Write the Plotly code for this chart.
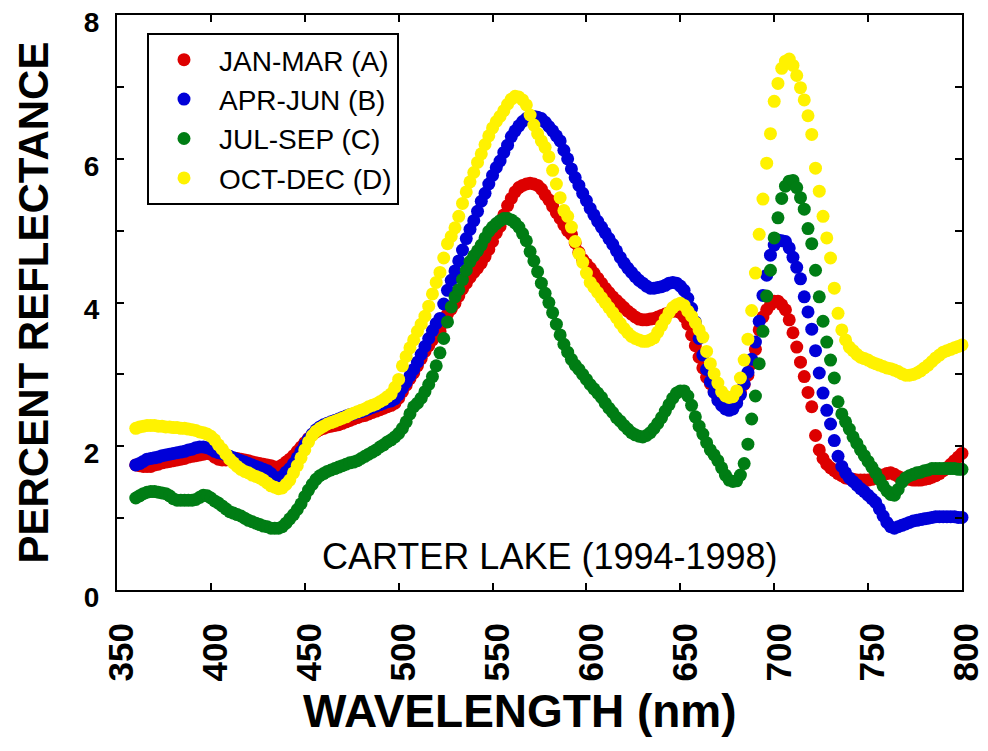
import numpy as np
import plotly.graph_objects as go

# Wavelength grid (nm)
WL_START, WL_STOP, WL_STEP = 360, 800, 2
wavelength = list(range(WL_START, WL_STOP + 1, WL_STEP))

series_names = ["JAN-MAR (A)", "APR-JUN (B)", "JUL-SEP (C)", "OCT-DEC (D)"]
series_colors = ["#dd0000", "#0000d8", "#007d14", "#fff200"]

jan_mar = [
    1.74, 1.73, 1.72, 1.72, 1.72, 1.74, 1.75, 1.77, 1.78, 1.79,
    1.80, 1.81, 1.82, 1.83, 1.85, 1.86, 1.87, 1.88, 1.89, 1.90,
    1.89, 1.85, 1.82, 1.81, 1.81, 1.82, 1.83, 1.83, 1.82, 1.81,
    1.80, 1.78, 1.77, 1.76, 1.75, 1.74, 1.73, 1.71, 1.71, 1.74,
    1.78, 1.82, 1.87, 1.93, 1.99, 2.05, 2.11, 2.16, 2.20, 2.23,
    2.25, 2.27, 2.28, 2.29, 2.30, 2.32, 2.34, 2.36, 2.38, 2.40,
    2.42, 2.43, 2.45, 2.47, 2.49, 2.51, 2.53, 2.55, 2.57, 2.60,
    2.67, 2.76, 2.85, 2.94, 3.02, 3.12, 3.22, 3.32, 3.40, 3.48,
    3.54, 3.60, 3.72, 3.84, 3.91, 3.99, 4.09, 4.19, 4.27, 4.35,
    4.42, 4.48, 4.55, 4.64, 4.74, 4.85, 4.97, 5.06, 5.22, 5.35,
    5.45, 5.54, 5.60, 5.63, 5.65, 5.66, 5.65, 5.63, 5.58, 5.50,
    5.43, 5.34, 5.25, 5.17, 5.08, 5.00, 4.95, 4.83, 4.70, 4.60,
    4.54, 4.48, 4.41, 4.34, 4.27, 4.20, 4.14, 4.08, 4.03, 3.98,
    3.93, 3.88, 3.84, 3.80, 3.77, 3.76, 3.76, 3.77, 3.78, 3.80,
    3.82, 3.84, 3.86, 3.88, 3.88, 3.86, 3.80, 3.70, 3.55, 3.40,
    3.24, 3.09, 2.96, 2.87, 2.77, 2.68, 2.62, 2.57, 2.56, 2.58,
    2.64, 2.74, 2.86, 2.99, 3.15, 3.35, 3.62, 3.80, 3.90, 3.97,
    4.02, 4.02, 3.97, 3.90, 3.76, 3.58, 3.38, 3.17, 2.97, 2.75,
    2.55, 2.15, 1.95, 1.83, 1.75, 1.70, 1.66, 1.62, 1.59, 1.56,
    1.55, 1.54, 1.53, 1.53, 1.53, 1.53, 1.54, 1.56, 1.58, 1.60,
    1.62, 1.63, 1.61, 1.58, 1.56, 1.55, 1.54, 1.53, 1.53, 1.53,
    1.54, 1.55, 1.57, 1.59, 1.62, 1.66, 1.70, 1.75, 1.80, 1.85,
    1.90,
]

apr_jun = [
    1.74, 1.76, 1.79, 1.82, 1.83, 1.84, 1.85, 1.87, 1.88, 1.89,
    1.90, 1.91, 1.92, 1.93, 1.95, 1.96, 1.98, 1.99, 1.99, 1.98,
    1.96, 1.93, 1.91, 1.90, 1.88, 1.86, 1.84, 1.82, 1.80, 1.78,
    1.76, 1.74, 1.72, 1.70, 1.68, 1.66, 1.62, 1.57, 1.55, 1.58,
    1.64, 1.69, 1.76, 1.84, 1.93, 2.02, 2.10, 2.17, 2.23, 2.27,
    2.30, 2.32, 2.34, 2.36, 2.38, 2.40, 2.42, 2.44, 2.45, 2.47,
    2.48, 2.50, 2.52, 2.54, 2.56, 2.58, 2.60, 2.62, 2.63, 2.66,
    2.72, 2.81, 2.89, 2.98, 3.07, 3.17, 3.28, 3.39, 3.50, 3.61,
    3.71, 3.78, 3.98, 4.17, 4.31, 4.44, 4.58, 4.73, 4.89, 5.02,
    5.14, 5.27, 5.41, 5.52, 5.65, 5.77, 5.88, 5.97, 6.09, 6.19,
    6.31, 6.39, 6.46, 6.52, 6.56, 6.58, 6.59, 6.58, 6.56, 6.51,
    6.45, 6.39, 6.32, 6.25, 6.12, 6.00, 5.86, 5.74, 5.63, 5.52,
    5.42, 5.31, 5.22, 5.13, 5.05, 4.97, 4.89, 4.81, 4.72, 4.63,
    4.55, 4.48, 4.42, 4.36, 4.31, 4.27, 4.23, 4.20, 4.20, 4.21,
    4.22, 4.24, 4.27, 4.28, 4.27, 4.23, 4.17, 4.06, 3.92, 3.73,
    3.50, 3.27, 3.07, 2.90, 2.75, 2.64, 2.57, 2.52, 2.50, 2.52,
    2.60, 2.72, 2.87, 3.03, 3.21, 3.45, 3.74, 4.10, 4.38, 4.66,
    4.80, 4.87, 4.86, 4.85, 4.76, 4.63, 4.49, 4.33, 4.08, 3.87,
    3.63, 3.33, 3.02, 2.74, 2.50, 2.31, 2.08, 1.86, 1.72, 1.63,
    1.56, 1.51, 1.46, 1.41, 1.37, 1.32, 1.27, 1.22, 1.13, 1.03,
    0.94, 0.88, 0.86, 0.88, 0.90, 0.92, 0.94, 0.96, 0.97, 0.98,
    0.99, 1.00, 1.01, 1.02, 1.02, 1.02, 1.02, 1.02, 1.02, 1.01,
    1.01,
]

jul_sep = [
    1.28, 1.31, 1.34, 1.36, 1.37, 1.37, 1.36, 1.35, 1.34, 1.31,
    1.27, 1.25, 1.25, 1.25, 1.25, 1.25, 1.26, 1.29, 1.32, 1.31,
    1.28, 1.24, 1.21, 1.17, 1.13, 1.09, 1.07, 1.05, 1.03, 1.00,
    0.97, 0.95, 0.93, 0.91, 0.89, 0.88, 0.86, 0.86, 0.86, 0.88,
    0.93, 0.99, 1.05, 1.12, 1.20, 1.30, 1.39, 1.47, 1.54, 1.59,
    1.62, 1.65, 1.67, 1.69, 1.71, 1.73, 1.75, 1.77, 1.78, 1.80,
    1.83, 1.86, 1.89, 1.92, 1.95, 1.99, 2.02, 2.06, 2.09, 2.13,
    2.18, 2.25, 2.34, 2.45, 2.55, 2.60, 2.67, 2.76, 2.86, 2.97,
    3.12, 3.30, 3.50, 3.73, 3.94, 4.08, 4.18, 4.32, 4.45, 4.57,
    4.65, 4.72, 4.80, 4.90, 4.99, 5.05, 5.10, 5.14, 5.17, 5.17,
    5.15, 5.11, 5.05, 4.96, 4.86, 4.71, 4.58, 4.43, 4.27, 4.13,
    4.00, 3.86, 3.70, 3.55, 3.42, 3.31, 3.21, 3.13, 3.07, 3.00,
    2.93, 2.86, 2.80, 2.74, 2.68, 2.60, 2.53, 2.47, 2.40, 2.35,
    2.29, 2.24, 2.19, 2.16, 2.14, 2.13, 2.15, 2.19, 2.25, 2.32,
    2.40, 2.49, 2.58, 2.67, 2.74, 2.77, 2.77, 2.70, 2.57, 2.41,
    2.28, 2.17, 2.05, 1.95, 1.88, 1.80, 1.70, 1.60, 1.53, 1.51,
    1.52, 1.60, 1.76, 2.03, 2.38, 2.70, 3.15, 3.60, 4.09, 4.45,
    4.90, 5.18, 5.45, 5.62, 5.69, 5.70, 5.60, 5.46, 5.30, 5.03,
    4.82, 4.45, 4.08, 3.74, 3.45, 3.20, 2.95, 2.62, 2.45, 2.34,
    2.24, 2.13, 2.04, 1.95, 1.87, 1.79, 1.71, 1.63, 1.54, 1.45,
    1.38, 1.33, 1.32, 1.40, 1.50, 1.56, 1.59, 1.61, 1.63, 1.64,
    1.66, 1.67, 1.69, 1.69, 1.69, 1.69, 1.69, 1.69, 1.69, 1.68,
    1.68,
]

oct_dec = [
    2.25, 2.27, 2.28, 2.29, 2.29, 2.29, 2.28, 2.28, 2.27, 2.27,
    2.26, 2.26, 2.25, 2.25, 2.24, 2.23, 2.22, 2.20, 2.19, 2.17,
    2.14, 2.09, 2.02, 1.96, 1.89, 1.82, 1.77, 1.72, 1.68, 1.65,
    1.63, 1.60, 1.58, 1.56, 1.53, 1.49, 1.45, 1.43, 1.41, 1.42,
    1.47, 1.53, 1.63, 1.73, 1.84, 1.95, 2.06, 2.15, 2.21, 2.25,
    2.28, 2.31, 2.33, 2.35, 2.37, 2.39, 2.41, 2.44, 2.46, 2.48,
    2.50, 2.52, 2.55, 2.57, 2.59, 2.62, 2.65, 2.69, 2.73, 2.82,
    2.93, 3.12, 3.25, 3.37, 3.48, 3.60, 3.70, 3.81, 3.95, 4.12,
    4.28, 4.42, 4.62, 4.82, 4.92, 5.04, 5.20, 5.38, 5.54, 5.68,
    5.81, 5.95, 6.07, 6.20, 6.32, 6.43, 6.52, 6.59, 6.67, 6.76,
    6.83, 6.87, 6.86, 6.82, 6.75, 6.61, 6.47, 6.35, 6.25, 6.16,
    6.03, 5.84, 5.65, 5.46, 5.28, 5.20, 5.05, 4.85, 4.68, 4.56,
    4.41, 4.28, 4.21, 4.14, 4.07, 4.00, 3.93, 3.86, 3.79, 3.71,
    3.64, 3.58, 3.53, 3.50, 3.48, 3.46, 3.46, 3.48, 3.51, 3.59,
    3.68, 3.77, 3.86, 3.93, 3.97, 3.99, 3.96, 3.88, 3.81, 3.72,
    3.62, 3.52, 3.32, 3.15, 3.01, 2.88, 2.76, 2.70, 2.68, 2.69,
    2.77, 2.95, 3.20, 3.49, 3.89, 4.41, 4.95, 5.44, 5.94, 6.35,
    6.80, 7.05, 7.26, 7.36, 7.39, 7.30, 7.16, 6.99, 6.82, 6.60,
    6.34, 5.87, 5.55, 5.20, 4.90, 4.62, 4.20, 3.85, 3.62, 3.48,
    3.38, 3.33, 3.28, 3.24, 3.22, 3.20, 3.17, 3.15, 3.13, 3.11,
    3.09, 3.08, 3.06, 3.04, 3.01, 2.99, 2.99, 3.00, 3.02, 3.05,
    3.09, 3.13, 3.18, 3.23, 3.27, 3.31, 3.33, 3.35, 3.37, 3.39,
    3.41,
]

x_tick_values = [350, 400, 450, 500, 550, 600, 650, 700, 750, 800]
y_tick_values = [0, 1, 2, 3, 4, 5, 6, 7, 8]
y_tick_labels = ["0", "", "2", "", "4", "", "6", "", "8"]

FONT = "Liberation Sans, Arial, sans-serif"

fig = go.Figure()
for name, color, values in zip(series_names, series_colors,
                               [jan_mar, apr_jun, jul_sep, oct_dec]):
    assert len(values) == len(wavelength), name
    fig.add_trace(go.Scatter(
        x=wavelength, y=values, name=name, mode="markers",
        marker=dict(color=color, size=13, line=dict(width=0)),
        cliponaxis=False,
    ))

axis_common = dict(
    showline=True, linecolor="black", linewidth=2, mirror="ticks",
    ticks="inside", ticklen=7, tickwidth=2, tickcolor="black",
    showgrid=False, zeroline=False, ticklabeloverflow="allow",
    automargin=False,
)

fig.update_xaxes(
    range=[350, 800.01], tickmode="array", tickvals=x_tick_values,
    ticktext=[str(v) for v in x_tick_values], tickangle=-90,
    tickfont=dict(family=FONT, size=35, color="black", weight="bold"),
    ticklabelstandoff=17, ticklabelshift=5, **axis_common,
)
fig.update_yaxes(
    range=[0, 8.002], tickmode="array", tickvals=y_tick_values,
    ticktext=y_tick_labels,
    tickfont=dict(family=FONT, size=28, color="black", weight="bold"),
    ticklabelstandoff=10, ticklabelshift=7, **axis_common,
)

fig.add_annotation(
    text="PERCENT REFLECTANCE", xref="paper", yref="paper",
    x=-0.0994, y=0.5, xanchor="center", yanchor="middle", textangle=-90,
    showarrow=False,
    font=dict(family=FONT, size=42, color="black", weight="bold"),
)
fig.add_annotation(
    text="WAVELENGTH (nm)", xref="paper", yref="paper",
    x=0.477, y=-0.21, xanchor="center", yanchor="middle",
    showarrow=False,
    font=dict(family=FONT, size=46, color="black", weight="bold"),
)
fig.add_annotation(
    text="CARTER LAKE (1994-1998)", xref="paper", yref="paper",
    x=0.513, y=0.058, xanchor="center", yanchor="middle",
    showarrow=False,
    font=dict(family=FONT, size=36, color="black"),
)

fig.update_layout(
    width=988, height=751,
    margin=dict(l=117, r=26, t=15, b=161),
    paper_bgcolor="white", plot_bgcolor="white",
    showlegend=True,
    legend=dict(
        x=0.0355, y=0.9687, xanchor="left", yanchor="top",
        bordercolor="black", borderwidth=2, bgcolor="white",
        font=dict(family=FONT, size=28, color="black"),
        itemwidth=60, tracegroupgap=0,
    ),
)

fig.write_html("out.html")
